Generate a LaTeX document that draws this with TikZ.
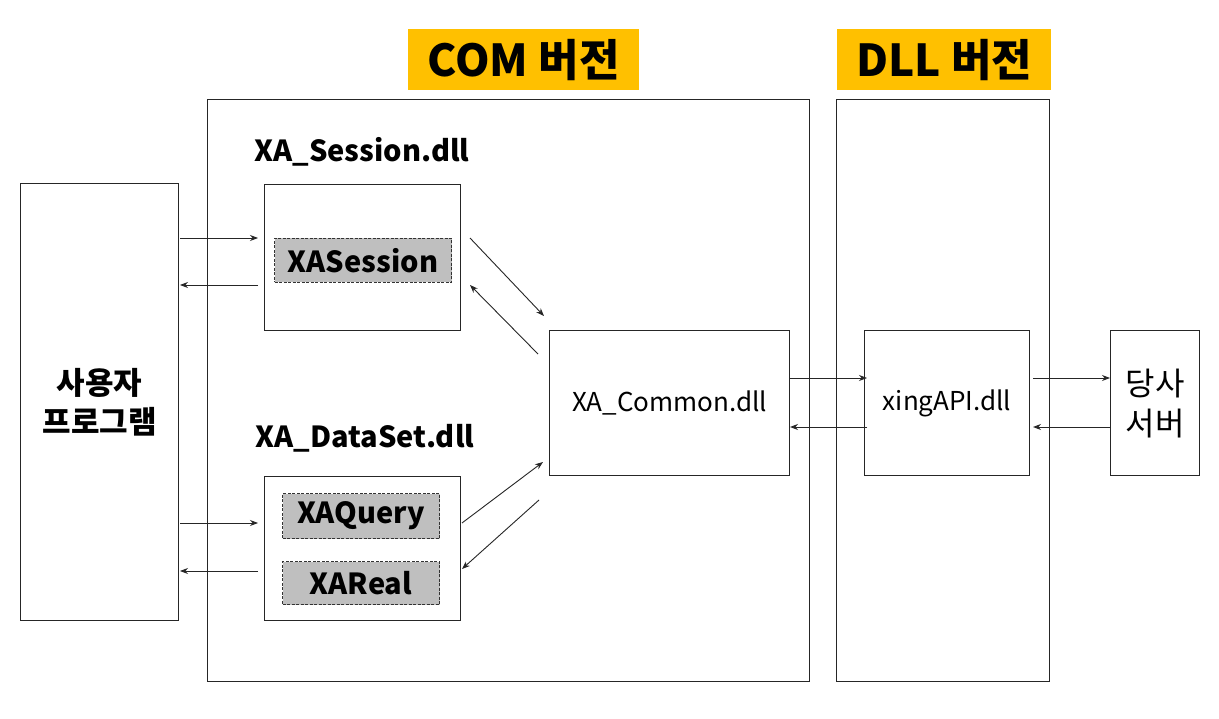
\documentclass[tikz,border=0pt]{standalone}
\usepackage{fontspec}
\setmainfont{Noto Sans CJK KR}
\usetikzlibrary{arrows.meta}
\definecolor{ttl}{RGB}{255,192,0}
\definecolor{gbox}{RGB}{191,191,191}
\tikzset{
  box/.style={draw=black!85, line width=1.2pt, fill=white},
  gray/.style={draw=black!80, dashed, dash pattern=on 3pt off 1.5pt, line width=1pt, fill=gbox, font=\fontsize{29}{32}\selectfont\bfseries, inner sep=0pt},
  title/.style={fill=ttl, font=\fontsize{44}{48}\selectfont\bfseries, inner sep=0pt},
  lbl/.style={font=\fontsize{29}{32}\selectfont\bfseries, inner sep=0pt},
  txt/.style={font=\fontsize{26}{30}\selectfont, inner sep=0pt},
  arr/.style={-{Stealth[length=8pt,width=6pt]}, line width=0.9pt, draw=black!85}
}
\begin{document}
\begin{tikzpicture}[x=1pt,y=-1pt]
\useasboundingbox (0,0) rectangle (1219,719);
% containers
\node[box, minimum width=602pt, minimum height=582pt, anchor=north west] (com) at (207,99) {};
\node[box, minimum width=213pt, minimum height=582pt, anchor=north west] (dll) at (836,99) {};
\node[title, minimum width=231pt, minimum height=61pt, anchor=north west] (comt) at (408,29) {COM 버전};
\node[title, minimum width=214pt, minimum height=61pt, anchor=north west] (dllt) at (837,29) {DLL 버전};
% user program
\node[box, minimum width=158pt, minimum height=437pt, anchor=north west, align=center, font=\fontsize{31}{39}\selectfont\bfseries] (user) at (20,183) {사용자\\프로그램};
% session
\node[lbl] (sesl) at (362,152) {XA\_Session.dll};
\node[box, minimum width=196pt, minimum height=146pt, anchor=north west] (ses) at (264,184) {};
\node[gray, minimum width=177pt, minimum height=44pt, anchor=north west] (xas) at (274,238) {XASession};
% dataset
\node[lbl] (dsl) at (365,438) {XA\_DataSet.dll};
\node[box, minimum width=196pt, minimum height=144pt, anchor=north west] (ds) at (264,476) {};
\node[gray, minimum width=157pt, minimum height=45pt, anchor=north west] (xaq) at (282,493) {XAQuery};
\node[gray, minimum width=157pt, minimum height=43pt, anchor=north west] (xar) at (282,561) {XAReal};
% common
\node[box, minimum width=240pt, minimum height=145pt, anchor=north west, txt] (cmn) at (549,330) {XA\_Common.dll};
\node[box, minimum width=165pt, minimum height=145pt, anchor=north west, txt] (xing) at (864,330) {xingAPI.dll};
\node[box, minimum width=89pt, minimum height=145pt, anchor=north west, align=center, font=\fontsize{32}{40}\selectfont] (srv) at (1110,330) {당사\\서버};
% connector endpoints
\coordinate (a1s) at (180,238); \coordinate (a1e) at (258,238);
\coordinate (a2s) at (258,285); \coordinate (a2e) at (180,285);
\coordinate (a3s) at (180,523); \coordinate (a3e) at (258,523);
\coordinate (a4s) at (258,571); \coordinate (a4e) at (180,571);
\coordinate (d1s) at (470,238); \coordinate (d1e) at (544,316);
\coordinate (d2s) at (538,354); \coordinate (d2e) at (470,285);
\coordinate (d3s) at (462,523); \coordinate (d3e) at (543,462);
\coordinate (d4s) at (539,500); \coordinate (d4e) at (462,569);
\coordinate (h1s) at (790,378); \coordinate (h1e) at (867,378);
\coordinate (h2s) at (867,427); \coordinate (h2e) at (790,427);
\coordinate (h3s) at (1033,378); \coordinate (h3e) at (1110,378);
\coordinate (h4s) at (1110,427); \coordinate (h4e) at (1033,427);
\foreach \p in {a1,a2,a3,a4,d1,d2,d3,d4,h1,h2,h3,h4}{\draw[arr] (\p s) -- (\p e);}
\end{tikzpicture}
\end{document}
